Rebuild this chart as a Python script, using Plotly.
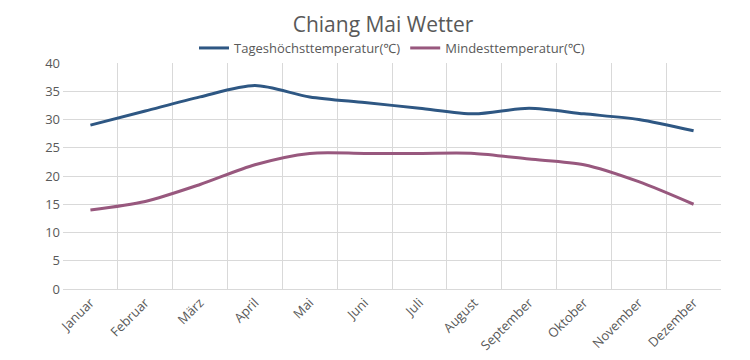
import plotly.graph_objects as go

months = ["Januar", "Februar", "März", "April", "Mai", "Juni", "Juli",
          "August", "September", "Oktober", "November", "Dezember"]
high = [29, 31.5, 34, 36, 34, 33, 32, 31, 32, 31, 30, 28]
low = [14, 15.5, 18.5, 22, 24, 24, 24, 24, 23, 22, 19, 15]

fig = go.Figure()
fig.add_trace(go.Scatter(x=months, y=high, mode="lines", name="Tageshöchsttemperatur(℃)",
                         line=dict(color="#2e5783", width=3, shape="spline", smoothing=0.8)))
fig.add_trace(go.Scatter(x=months, y=low, mode="lines", name="Mindesttemperatur(℃)",
                         line=dict(color="#98587e", width=3, shape="spline", smoothing=0.8)))

fig.update_layout(
    width=750, height=360,
    margin=dict(l=55, r=37, t=55, b=79),
    paper_bgcolor="white", plot_bgcolor="white",
    font=dict(family="Open Sans, Noto Sans, sans-serif", color="#595959", size=12),
    title=dict(text="Chiang Mai Wetter", x=0.5, xanchor="center", y=0.955, yanchor="middle",
               font=dict(size=21, color="#595959")),
    legend=dict(orientation="h", x=0.5, xanchor="center", y=1.0, yanchor="bottom",
                font=dict(size=13, color="#595959"), itemwidth=30, traceorder="normal"),
    xaxis=dict(type="category", tickson="boundaries", showgrid=True, gridcolor="#d9d9d9",
               showline=True, linecolor="#d9d9d9", tickangle=-45, ticks="",
               tickfont=dict(size=13, color="#595959"), mirror=False, range=[-0.5, 11.5]),
    yaxis=dict(range=[0, 40], dtick=5, showgrid=True, gridcolor="#d9d9d9", zeroline=False,
               showline=False, ticks="", tickfont=dict(size=13, color="#595959"), ticklabelstandoff=2),
)
fig.write_html("out.html")
